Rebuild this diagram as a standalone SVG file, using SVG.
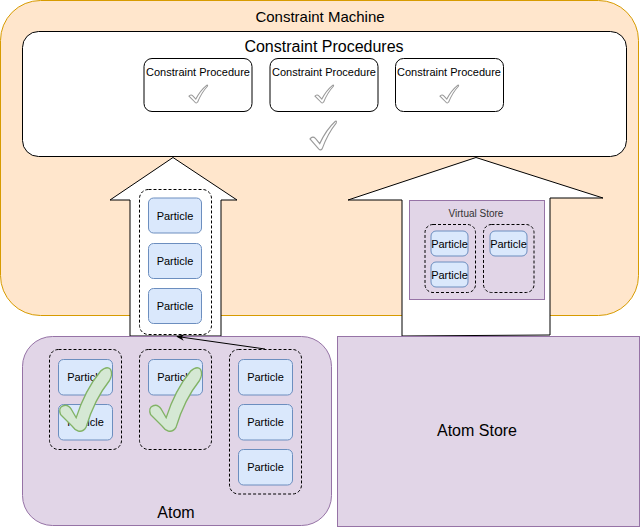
<svg xmlns="http://www.w3.org/2000/svg" width="640" height="527" viewBox="0 0 640 527">
<defs>
<style>
text{font-family:"Liberation Sans",Arial,sans-serif;fill:#000;text-anchor:middle;dominant-baseline:central}
.p{fill:#dae8fc;stroke:#6c8ebf;stroke-width:1}
.pt{font-size:11px}
.grp{fill:none;stroke:#000;stroke-width:1;stroke-dasharray:3 2}
.purple{fill:#e1d5e7;stroke:#9673a6;stroke-width:1}
.arrow{fill:#fff;stroke:#000;stroke-width:1}
.cp{fill:#fff;stroke:#000;stroke-width:1}
.gc{fill:#fff;stroke:#999;stroke-width:1}
.gg{fill:#d5e8d4;stroke:#82b366;stroke-width:2}
</style>
<path id="chk" d="M0,0.62 Q0.1,0.5 0.2,0.6 L0.36,0.78 Q0.6,0.3 0.94,0.01 Q1,-0.02 0.97,0.07 Q0.66,0.42 0.45,0.96 Q0.39,1.03 0.32,0.96 Z"/>
<path id="gchk" d="M0.03,0.74 Q-0.02,0.63 0.08,0.6 Q0.17,0.57 0.24,0.66 L0.33,0.79 Q0.5,0.35 0.8,0.05 Q0.92,-0.04 0.99,0.02 Q1.04,0.1 0.97,0.2 Q0.68,0.5 0.52,0.94 Q0.46,1.02 0.37,1 Q0.3,0.98 0.25,0.92 Z"/>
<marker id="ah" viewBox="0 0 10 10" refX="9" refY="5" markerWidth="8" markerHeight="8" orient="auto" markerUnits="userSpaceOnUse">
<path d="M0,1 L10,5 L0,9 L3,5 Z" fill="#000"/>
</marker>
</defs>

<g id="constraint-machine">
<rect x="0.5" y="0.5" width="638" height="315" rx="40" fill="#ffe6cc" stroke="#d79b00"/>
<text x="320" y="16" style="font-size:15px">Constraint Machine</text>
</g>

<g id="constraint-procedures">
<rect x="22.5" y="31.5" width="604" height="125" rx="16" class="cp"/>
<text x="324" y="46" style="font-size:16px">Constraint Procedures</text>
<use href="#chk" class="gc" transform="translate(310,121) scale(27,29)" style="stroke-width:0.04"/>
</g>

<g id="cp1">
<rect x="144" y="58.5" width="108" height="53" rx="8" class="cp"/>
<text x="198" y="72" style="font-size:11px">Constraint Procedure</text>
<use href="#chk" class="gc" transform="translate(189,85) scale(19,18)" style="stroke-width:0.055"/>
</g>
<g id="cp2">
<rect x="270" y="58.5" width="108" height="53" rx="8" class="cp"/>
<text x="324" y="72" style="font-size:11px">Constraint Procedure</text>
<use href="#chk" class="gc" transform="translate(315,85) scale(19,18)" style="stroke-width:0.055"/>
</g>
<g id="cp3">
<rect x="395.5" y="58.5" width="108" height="53" rx="8" class="cp"/>
<text x="449" y="72" style="font-size:11px">Constraint Procedure</text>
<use href="#chk" class="gc" transform="translate(440,85) scale(19,18)" style="stroke-width:0.055"/>
</g>

<g id="left-arrow">
<path class="arrow" d="M173,157.5 L237,200 L221,200 L221,336 L130,336 L130,200 L110,200 Z"/>
<rect x="139.5" y="189.5" width="72" height="145" rx="9" class="grp"/>
<rect x="148.5" y="198" width="53" height="35" rx="5" class="p"/>
<text x="175" y="215.5" class="pt">Particle</text>
<rect x="148.5" y="243.5" width="53" height="35" rx="5" class="p"/>
<text x="175" y="261" class="pt">Particle</text>
<rect x="148.5" y="288.5" width="53" height="35" rx="5" class="p"/>
<text x="175" y="306" class="pt">Particle</text>
</g>

<g id="right-arrow">
<path class="arrow" d="M476,157.5 L603,198 L550,198 L550,335 L402,336 L402,200 L348,200 Z"/>
</g>

<g id="virtual-store">
<rect x="409.5" y="200.5" width="135" height="99" class="purple"/>
<text x="476" y="213" style="font-size:10px;fill:#333">Virtual Store</text>
<rect x="425" y="224.5" width="50.5" height="68" rx="8" class="grp"/>
<rect x="483.5" y="224.5" width="50.5" height="68" rx="8" class="grp"/>
<rect x="431" y="231" width="37" height="25" rx="5" class="p"/>
<text x="449.5" y="243.5" class="pt">Particle</text>
<rect x="431" y="262" width="37" height="25" rx="5" class="p"/>
<text x="449.5" y="274.5" class="pt">Particle</text>
<rect x="490" y="231" width="37" height="25" rx="5" class="p"/>
<text x="508.5" y="243.5" class="pt">Particle</text>
</g>

<g id="atom">
<rect x="22.5" y="336.5" width="309" height="189" rx="30" class="purple"/>
<text x="176" y="512" style="font-size:16px">Atom</text>
<rect x="49.5" y="349.5" width="72" height="100" rx="9" class="grp"/>
<rect x="139.5" y="349.5" width="72" height="100" rx="9" class="grp"/>
<rect x="229.5" y="349.5" width="72" height="144.5" rx="9" class="grp"/>
<rect x="58.5" y="359.5" width="54" height="35.5" rx="5" class="p"/>
<text x="85.5" y="377" class="pt">Particle</text>
<rect x="58.5" y="404.5" width="54" height="35.5" rx="5" class="p"/>
<text x="85.5" y="422" class="pt">Particle</text>
<rect x="148.5" y="359.5" width="54" height="35.5" rx="5" class="p"/>
<text x="175.5" y="377" class="pt">Particle</text>
<rect x="238.5" y="359.5" width="54" height="35.5" rx="5" class="p"/>
<text x="265.5" y="377" class="pt">Particle</text>
<rect x="238.5" y="404.5" width="54" height="35.5" rx="5" class="p"/>
<text x="265.5" y="422" class="pt">Particle</text>
<rect x="238.5" y="449.5" width="54" height="35.5" rx="5" class="p"/>
<text x="265.5" y="467" class="pt">Particle</text>
<use href="#gchk" class="gg" transform="translate(59,368) scale(52,63)" style="stroke-width:0.024"/>
<use href="#gchk" class="gg" transform="translate(149,368) scale(52,63)" style="stroke-width:0.024"/>
</g>

<g id="atom-store">
<rect x="337.5" y="336.5" width="302" height="190" class="purple"/>
<text x="477" y="430" style="font-size:16px">Atom Store</text>
</g>

<g id="connectors">
<line x1="265" y1="349" x2="177" y2="336.5" stroke="#000" stroke-width="1" marker-end="url(#ah)"/>
</g>
</svg>
